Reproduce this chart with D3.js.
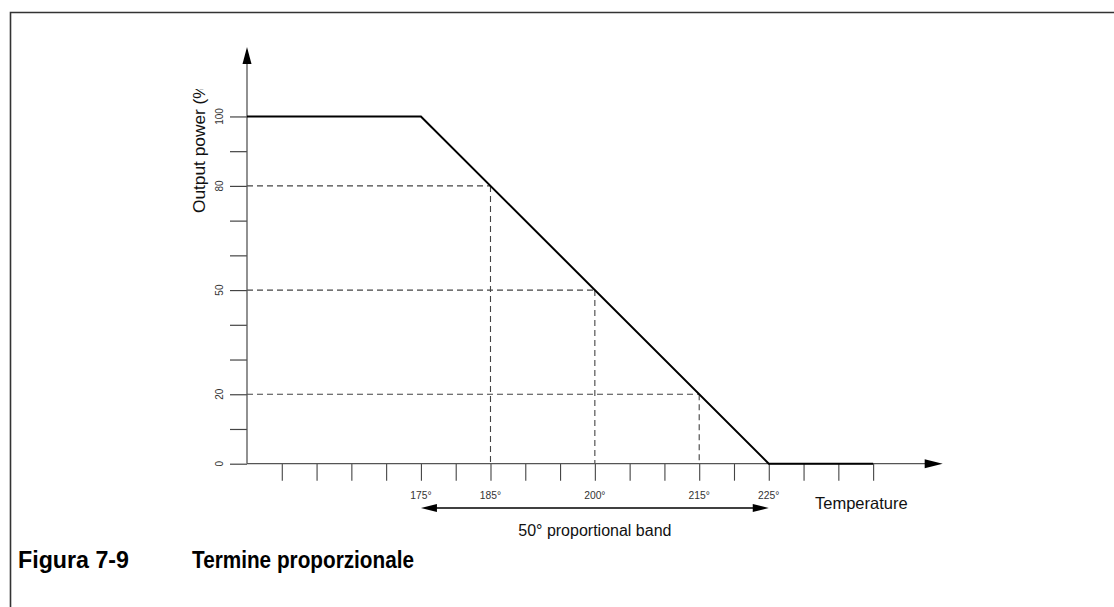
<!DOCTYPE html>
<html>
<head>
<meta charset="utf-8">
<script src="https://cdn.jsdelivr.net/npm/d3@7"></script>
<style>
  html, body { margin: 0; padding: 0; background: #fff; }
  svg { display: block; }
</style>
</head>
<body>
<svg id="chart" width="1114" height="607"></svg>
<script>
// ---- data ----
const curveTemps   = [150, 175, 225, 240];
const curveOutputs = [100, 100, 0, 0];
const guideTemps   = [185, 200, 215];
const guideOutputs = [80, 50, 20];
const xTickValues  = [155, 160, 165, 170, 175, 180, 185, 190, 195, 200, 205, 210, 215, 220, 225, 230, 235, 240];
const xTickLabels  = [175, 185, 200, 215, 225];
const yTickValues  = [0, 10, 20, 30, 40, 50, 60, 70, 80, 90, 100];
const yTickLabels  = [0, 20, 50, 80, 100];
const bandStart = 175, bandEnd = 225;
const xTitle = "Temperature";
const yTitle = "Output power (%)";
const bandLabel = "50° proportional band";
const figNumber = "Figura 7-9";
const figTitle = "Termine proporzionale";

const svg = d3.select("#chart");
const x = d3.scaleLinear().domain([150, 250]).range([247, 942.7]);
const y = d3.scaleLinear().domain([0, 120]).range([463.7, 47]);

// frame
svg.append("path").attr("d", "M10.5,607 L10.5,12.5 L1114,12.5")
  .attr("fill", "none").attr("stroke", "#333").attr("stroke-width", 1.6);

const defs = svg.append("defs");
defs.append("clipPath").attr("id", "ytclip")
  .append("rect").attr("x", 150).attr("y", 89).attr("width", 80).attr("height", 200);

// y ticks
const yAxis = d3.axisLeft(y).tickValues(yTickValues).tickSize(17).tickFormat("");
const gy = svg.append("g").attr("transform", `translate(${x(150)},0)`).call(yAxis);
gy.select(".domain").remove();
gy.selectAll(".tick line").attr("stroke", "#444").attr("stroke-width", 1.2);

// y tick labels (rotated)
svg.append("g").selectAll("text").data(yTickLabels).join("text")
  .attr("transform", d => `translate(222.5,${y(d)}) rotate(-90)`)
  .attr("text-anchor", "middle")
  .attr("font-family", "Liberation Sans, Arial, sans-serif")
  .attr("font-size", 10).attr("fill", "#333")
  .text(d => d);

// x ticks
const xAxis = d3.axisBottom(x).tickValues(xTickValues).tickSize(17).tickFormat("");
const gx = svg.append("g").attr("transform", `translate(0,${y(0)})`).call(xAxis);
gx.select(".domain").remove();
gx.selectAll(".tick line").attr("stroke", "#444").attr("stroke-width", 1.1);

// x tick labels
svg.append("g").selectAll("text").data(xTickLabels).join("text")
  .attr("x", d => x(d)).attr("y", 499)
  .attr("text-anchor", "middle")
  .attr("font-family", "Liberation Sans, Arial, sans-serif")
  .attr("font-size", 10.3).attr("fill", "#333")
  .text(d => d + "°");

// guide dashed lines
const guides = guideTemps.map((t, i) => ({ t, v: guideOutputs[i] }));
svg.append("g").selectAll("line").data(guides).join("line")
  .attr("x1", x(150)).attr("x2", d => x(d.t))
  .attr("y1", d => y(d.v)).attr("y2", d => y(d.v))
  .attr("stroke", "#444").attr("stroke-width", 1.1).attr("stroke-dasharray", "6,4");
svg.append("g").selectAll("line").data(guides).join("line")
  .attr("x1", d => x(d.t)).attr("x2", d => x(d.t))
  .attr("y1", d => y(d.v)).attr("y2", y(0))
  .attr("stroke", "#444").attr("stroke-width", 1.1).attr("stroke-dasharray", "6,4");

// axes lines
svg.append("line").attr("x1", x(150)).attr("x2", x(250) - 14)
  .attr("y1", y(0)).attr("y2", y(0)).attr("stroke", "#555").attr("stroke-width", 1.3);
svg.append("line").attr("x1", x(150)).attr("x2", x(150))
  .attr("y1", y(0)).attr("y2", y(120) + 14).attr("stroke", "#555").attr("stroke-width", 1.3);
// arrowheads
svg.append("path")
  .attr("d", `M${x(250)},${y(0)} L${x(250) - 18},${y(0) - 4.5} L${x(250) - 18},${y(0) + 4.5} Z`)
  .attr("fill", "#000");
svg.append("path")
  .attr("d", `M${x(150)},${y(120)} L${x(150) - 4.5},${y(120) + 17} L${x(150) + 4.5},${y(120) + 17} Z`)
  .attr("fill", "#000");

// curve
const line = d3.line().x(d => x(d[0])).y(d => y(d[1]));
svg.append("path")
  .datum(curveTemps.map((t, i) => [t, curveOutputs[i]]))
  .attr("d", line).attr("fill", "none").attr("stroke", "#000").attr("stroke-width", 2);

// band double arrow
const by = 508;
svg.append("line").attr("x1", x(bandStart) + 14).attr("x2", x(bandEnd) - 14)
  .attr("y1", by).attr("y2", by).attr("stroke", "#000").attr("stroke-width", 1.3);
svg.append("path")
  .attr("d", `M${x(bandStart)},${by} L${x(bandStart) + 16},${by - 4} L${x(bandStart) + 16},${by + 4} Z`)
  .attr("fill", "#000");
svg.append("path")
  .attr("d", `M${x(bandEnd)},${by} L${x(bandEnd) - 16},${by - 4} L${x(bandEnd) - 16},${by + 4} Z`)
  .attr("fill", "#000");

svg.append("text").attr("x", (x(bandStart) + x(bandEnd)) / 2).attr("y", 535.5)
  .attr("text-anchor", "middle")
  .attr("font-family", "Liberation Sans, Arial, sans-serif")
  .attr("font-size", 16).attr("fill", "#111").text(bandLabel);

svg.append("text").attr("x", 815).attr("y", 509)
  .attr("font-family", "Liberation Sans, Arial, sans-serif")
  .attr("font-size", 16.5).attr("fill", "#111").text(xTitle);

// y title (rotated, top clipped as in original)
svg.append("g").attr("clip-path", "url(#ytclip)")
  .append("text")
  .attr("transform", "translate(204.5,213) rotate(-90)")
  .attr("font-family", "Liberation Sans, Arial, sans-serif")
  .attr("font-size", 17.3).attr("fill", "#111").text(yTitle);

// caption
svg.append("text").attr("x", 18).attr("y", 568)
  .attr("font-family", "Liberation Sans, Arial, sans-serif")
  .attr("font-weight", "bold").attr("font-size", 23)
  .attr("textLength", 111).attr("lengthAdjust", "spacingAndGlyphs")
  .attr("fill", "#000").text(figNumber);
svg.append("text").attr("x", 192).attr("y", 568)
  .attr("font-family", "Liberation Sans, Arial, sans-serif")
  .attr("font-weight", "bold").attr("font-size", 23)
  .attr("textLength", 222).attr("lengthAdjust", "spacingAndGlyphs")
  .attr("fill", "#000").text(figTitle);
</script>
</body>
</html>
